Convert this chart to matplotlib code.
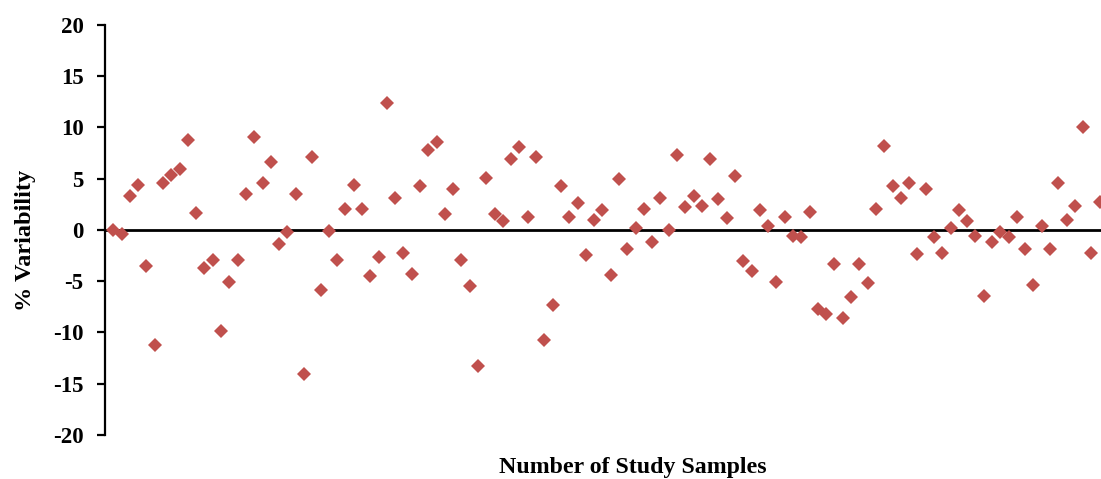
import matplotlib
matplotlib.use("Agg")
import matplotlib.pyplot as plt

# Sample numbers (1..120) and % variability
sample_numbers = list(range(1, 121))
variability = [
    0.0, -0.4, 3.35, 4.4, -3.5, -11.25, 4.6, 5.4, 5.95, 8.8,
    1.7, -3.75, -2.9, -9.9, -5.07, -2.9, 3.5, 9.1, 4.6, 6.6,
    -1.4, -0.16, 3.5, -14.05, 7.15, -5.9, -0.07, -2.9, 2.05, 4.4,
    2.05, -4.45, -2.6, 12.4, 3.1, -2.2, -4.3, 4.3, 7.8, 8.55,
    1.6, 4.0, -2.9, -5.5, -13.27, 5.07, 1.6, 0.85, 6.9, 8.07,
    1.3, 7.15, -10.73, -7.3, 4.3, 1.3, 2.6, -2.44, 0.98, 1.95,
    -4.4, 4.94, -1.9, 0.16, 2.05, -1.14, 3.1, 0.0, 7.3, 2.2,
    3.35, 2.35, 6.9, 3.0, 1.2, 5.27, -3.0, -4.0, 1.95, 0.42,
    -5.04, 1.3, -0.55, -0.72, 1.72, -7.74, -8.2, -3.35, -8.55, -6.57,
    -3.35, -5.14, 2.05, 8.2, 4.3, 3.1, 4.6, -2.37, 4.0, -0.72,
    -2.2, 0.23, 1.95, 0.88, -0.55, -6.4, -1.14, -0.16, -0.65, 1.3,
    -1.9, -5.37, 0.39, -1.9, 4.6, 0.98, 2.37, 10.08, -2.27, 2.76,
]
y_ticks = [-20, -15, -10, -5, 0, 5, 10, 15, 20]

plt.rcParams['font.family'] = ['Liberation Serif', 'DejaVu Serif']
plt.rcParams['axes.unicode_minus'] = False

fig = plt.figure(figsize=(11.01, 4.79), dpi=100)
ax = fig.add_axes([105 / 1101, 1 - 435 / 479, 1 - 105 / 1101, 410 / 479])

ax.axhline(0, color='black', linewidth=2.0, zorder=1)
ax.plot(sample_numbers, variability, linestyle='none', marker='D',
        markersize=7.5, color='#C0504D', markeredgewidth=0, zorder=3,
        clip_on=False)

ax.set_xlim(0, 120.15)
ax.set_ylim(-20, 20)
ax.set_yticks(y_ticks)
ax.set_xticks([])

for s in ['top', 'right', 'bottom']:
    ax.spines[s].set_visible(False)
ax.spines['left'].set_linewidth(1.6)
ax.tick_params(axis='y', direction='out', length=5.5, width=1.6,
               pad=10, labelsize=16.5)
for lab in ax.get_yticklabels():
    lab.set_fontweight('bold')

fig.text(25 / 1101, 1 - 240 / 479, '% Variability', rotation=90,
         ha='center', va='center', fontsize=17.5, fontweight='bold')
fig.text(633 / 1101, 1 - 467 / 479, 'Number of Study Samples',
         ha='center', va='center', fontsize=17.2, fontweight='bold')

fig.savefig('out.png', dpi=100)
